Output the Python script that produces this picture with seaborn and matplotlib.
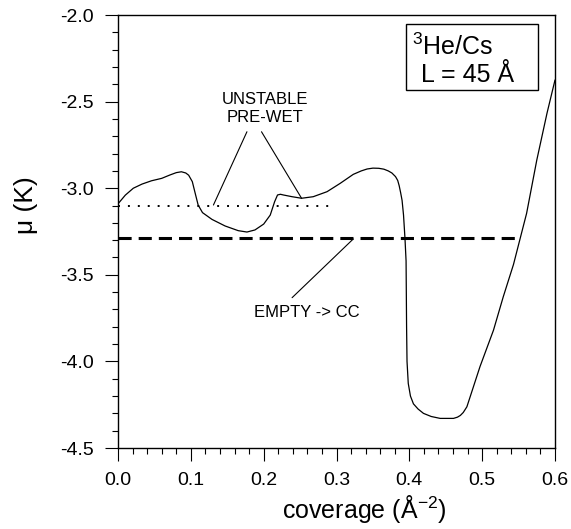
import matplotlib
matplotlib.use("Agg")
import matplotlib.pyplot as plt
import seaborn as sns
import pandas as pd
from matplotlib.patches import Rectangle
from matplotlib.ticker import MultipleLocator

# chemical potential isotherm, mu vs coverage
coverage = [0.000, 0.010, 0.021, 0.033, 0.046, 0.060, 0.071, 0.080, 0.087, 0.093,
            0.097, 0.102, 0.106, 0.110, 0.116, 0.129, 0.147, 0.165, 0.177, 0.188,
            0.200, 0.209, 0.215, 0.219, 0.223, 0.227, 0.239, 0.252, 0.268, 0.287,
            0.305, 0.323, 0.334, 0.342, 0.350, 0.358, 0.365, 0.371, 0.376, 0.381,
            0.384, 0.386, 0.388, 0.390, 0.392, 0.394,
            0.3955, 0.3962, 0.3968, 0.3985, 0.4015, 0.4056, 0.4120, 0.4194, 0.430, 0.4423,
            0.4606, 0.466, 0.470, 0.474, 0.479, 0.488, 0.497, 0.5155, 0.529, 0.543, 0.561,
            0.575, 0.589, 0.600]
mu = [-3.090, -3.040, -3.000, -2.976, -2.957, -2.943, -2.924, -2.910, -2.905, -2.912,
      -2.925, -2.962, -3.030, -3.097, -3.141, -3.180, -3.218, -3.245, -3.253, -3.241,
      -3.207, -3.155, -3.078, -3.039, -3.035, -3.039, -3.049, -3.058, -3.049, -3.020,
      -2.972, -2.920, -2.900, -2.889, -2.884, -2.885, -2.890, -2.900, -2.912, -2.933,
      -2.955, -2.985, -3.025, -3.070, -3.155, -3.290,
      -3.420, -3.800, -4.000, -4.127, -4.200, -4.245, -4.275, -4.300, -4.318, -4.329,
      -4.329, -4.322, -4.312, -4.295, -4.262, -4.146, -4.030, -3.820, -3.626, -3.440, -3.145,
      -2.837, -2.567, -2.375]

# coexistence levels
prewet_mu = -3.10
prewet_range = [0.0, 0.29]
empty_cc_mu = -3.29
empty_cc_range = [0.0, 0.545]

x_ticks = [0.0, 0.1, 0.2, 0.3, 0.4, 0.5, 0.6]
x_tick_labels = ["0.0", "0.1", "0.2", "0.3", "0.4", "0.5", "0.6"]
y_ticks = [-4.5, -4.0, -3.5, -3.0, -2.5, -2.0]
y_tick_labels = ["-4.5", "-4.0", "-3.5", "-3.0", "-2.5", "-2.0"]

sns.set_style("ticks")
plt.rcParams["font.family"] = ["Liberation Sans", "DejaVu Sans"]
plt.rcParams["mathtext.fontset"] = "custom"
plt.rcParams["mathtext.rm"] = "Liberation Sans"
plt.rcParams["mathtext.default"] = "regular"
plt.rcParams["text.color"] = "black"
plt.rcParams["axes.labelcolor"] = "black"
plt.rcParams["xtick.color"] = "black"
plt.rcParams["ytick.color"] = "black"

fig = plt.figure(figsize=(5.71, 5.29), dpi=100)
ax = fig.add_axes([0.2067, 0.1531, 0.7653, 0.8185])

df = pd.DataFrame({"coverage": coverage, "mu": mu})
sns.lineplot(data=df, x="coverage", y="mu", sort=False, estimator=None,
             color="black", lw=0.9, ax=ax)

ax.plot(prewet_range, [prewet_mu, prewet_mu], color="black", lw=1.4,
        linestyle=(0, (1, 4.1)))
ax.plot(empty_cc_range, [empty_cc_mu, empty_cc_mu], color="black", lw=2.2,
        linestyle=(0, (4.3, 2.3)))

# labels with leader lines
ax.text(0.202, -2.54, "UNSTABLE\nPRE-WET", ha="center", va="center",
        fontsize=12, linespacing=1.2, color="black")
ax.plot([0.177, 0.131], [-2.674, -3.097], color="black", lw=0.8)
ax.plot([0.197, 0.252], [-2.674, -3.058], color="black", lw=0.8)

ax.text(0.259, -3.72, "EMPTY -> CC", ha="center", va="center", fontsize=12,
        color="black")
ax.plot([0.323, 0.239], [-3.293, -3.632], color="black", lw=0.8)

# system box
ax.add_patch(Rectangle((0.659, 0.827), 0.302, 0.152, transform=ax.transAxes,
                       fill=False, edgecolor="black", lw=1.0))
ax.text(0.673, 0.927, r"$^{3}$He/Cs", transform=ax.transAxes, ha="left",
        va="center", fontsize=18, color="black")
ax.text(0.693, 0.862, "L = 45 Å", transform=ax.transAxes, ha="left",
        va="center", fontsize=18, color="black")

ax.set_xlim(0.0, 0.6)
ax.set_ylim(-4.5, -2.0)
ax.set_xticks(x_ticks)
ax.set_xticklabels(x_tick_labels)
ax.set_yticks(y_ticks)
ax.set_yticklabels(y_tick_labels)
ax.xaxis.set_minor_locator(MultipleLocator(0.02))
ax.yaxis.set_minor_locator(MultipleLocator(0.1))
ax.tick_params(which="major", direction="out", length=9.4, width=0.8,
               labelsize=14, pad=8, color="black", labelcolor="black")
ax.tick_params(which="minor", direction="out", length=4.3, width=0.8,
               color="black")
ax.tick_params(top=False, right=False, which="both")

for s in ax.spines.values():
    s.set_visible(True)
    s.set_linewidth(1.0)
    s.set_color("black")

ax.set_xlabel(r"coverage (Å$^{-2}$)", fontsize=18, color="black")
ax.set_ylabel("μ (K)", fontsize=19, color="black")
ax.xaxis.set_label_coords(0.563, -0.105)
ax.yaxis.set_label_coords(-0.183, 0.561)

fig.savefig("out.png", dpi=100)
